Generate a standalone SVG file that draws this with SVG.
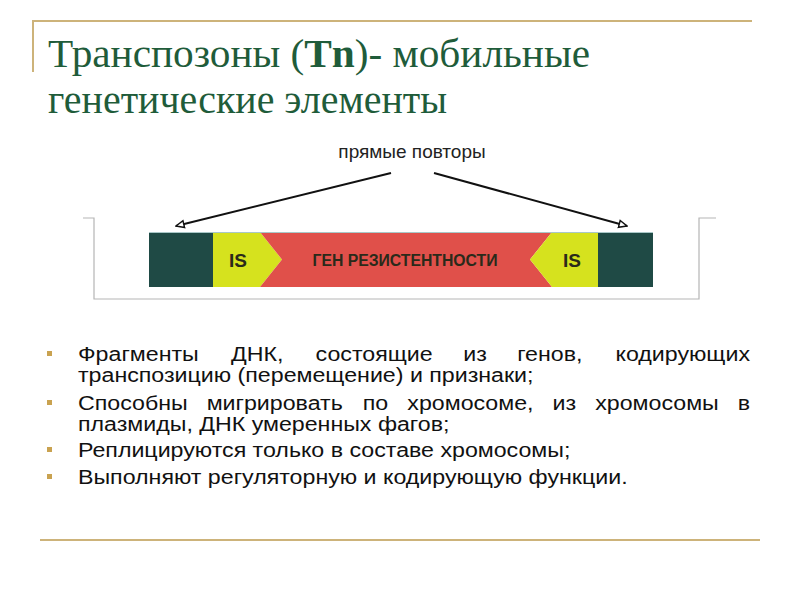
<svg xmlns="http://www.w3.org/2000/svg" width="800" height="600" viewBox="0 0 800 600">
<defs>
<style>
.rule{stroke:#cdb37a;stroke-width:2;fill:none}
.title{font-family:"Liberation Serif","DejaVu Serif",serif;font-size:39px;fill:#1f5c3a}
.body{font-family:"Liberation Sans",Arial,sans-serif;font-size:20px;fill:#111}
.bul{fill:#c9a250}
.lab{font-family:"Liberation Sans",Arial,sans-serif;font-weight:bold;fill:#2a2a1a}
.conn{stroke:#111;stroke-width:2;fill:none;marker-end:url(#ah)}
</style>
<marker id="ah" viewBox="0 0 10 10" refX="9" refY="5" markerWidth="5" markerHeight="5" orient="auto" markerUnits="strokeWidth">
<path d="M1,1.5 L9,5 L1,8.5 Z" fill="#fff" stroke="#111" stroke-width="1.5"/>
</marker>
</defs>
<rect width="800" height="600" fill="#fff"/>
<g id="frame">
<path class="rule" d="M33,72 V21 H752"/>
<path class="rule" d="M40,540 H760"/>
</g>
<g id="title">
<text class="title" x="48" y="67" textLength="542" lengthAdjust="spacingAndGlyphs">Транспозоны (<tspan font-weight="bold">Tn</tspan>)- мобильные</text>
<text class="title" x="48" y="113" textLength="399" lengthAdjust="spacingAndGlyphs">генетические элементы</text>
</g>
<g id="diagram">
<path d="M83,218 H94 V299 H699 V218 H716" stroke="#b5b5b5" stroke-width="1.2" fill="none"/>
<g id="bar">
<rect x="149" y="232" width="64" height="55" fill="#1f4a45"/>
<polygon points="213,232 260,232 282,259.5 260,287 213,287" fill="#d6e21e"/>
<polygon points="260,232 552,232 530,259.5 552,287 260,287 282,259.5" fill="#e0504a"/>
<polygon points="552,232 598,232 598,287 552,287 530,259.5" fill="#d6e21e"/>
<rect x="598" y="232" width="55" height="55" fill="#1f4a45"/>
<line x1="149" y1="232.5" x2="653" y2="232.5" stroke="#a9c8c8" stroke-width="1"/>
</g>
<g id="is-left"><text class="lab" x="238" y="267" font-size="19" text-anchor="middle">IS</text></g>
<g id="gene"><text class="lab" x="405" y="266" font-size="16" text-anchor="middle" textLength="185" lengthAdjust="spacingAndGlyphs" fill="#4a1c18">ГЕН  РЕЗИСТЕНТНОСТИ</text></g>
<g id="is-right"><text class="lab" x="572" y="267" font-size="19" text-anchor="middle">IS</text></g>
<g id="repeats"><text x="412" y="158" font-family="Liberation Sans,Arial,sans-serif" font-size="19" fill="#222" text-anchor="middle">прямые повторы</text></g>
<g id="connectors">
<line class="conn" x1="391" y1="173" x2="176" y2="226"/>
<line class="conn" x1="434" y1="173" x2="627" y2="226"/>
</g>
</g>
<g id="bullets">
<rect class="bul" x="47" y="351" width="5" height="5"/>
<rect class="bul" x="47" y="400" width="5" height="5"/>
<rect class="bul" x="47" y="447" width="5" height="5"/>
<rect class="bul" x="47" y="474" width="5" height="5"/>
<g transform="matrix(1.16 0 0 1 -12.48 0)">
<text class="body" y="361"><tspan x="78">Фрагменты</tspan><tspan x="209.9">ДНК,</tspan><tspan x="282.8">состоящие</tspan><tspan x="410.2">из</tspan><tspan x="456.6">генов,</tspan></text>
<text class="body" x="657.3" y="361" text-anchor="end">кодирующих</text>
<text class="body" x="78" y="382">транспозицию (перемещение) и признаки;</text>
<text class="body" y="410"><tspan x="78">Способны</tspan><tspan x="188.9">мигрировать</tspan><tspan x="323.4">по</tspan><tspan x="361.9">хромосоме,</tspan><tspan x="487.1">из</tspan><tspan x="523.9">хромосомы</tspan></text>
<text class="body" x="657.3" y="410" text-anchor="end">в</text>
<text class="body" x="78" y="431">плазмиды, ДНК умеренных фагов;</text>
<text class="body" x="78" y="457">Реплицируются только в составе хромосомы;</text>
<text class="body" x="78" y="484">Выполняют регуляторную и кодирующую функции.</text>
</g>
</g>
</svg>
